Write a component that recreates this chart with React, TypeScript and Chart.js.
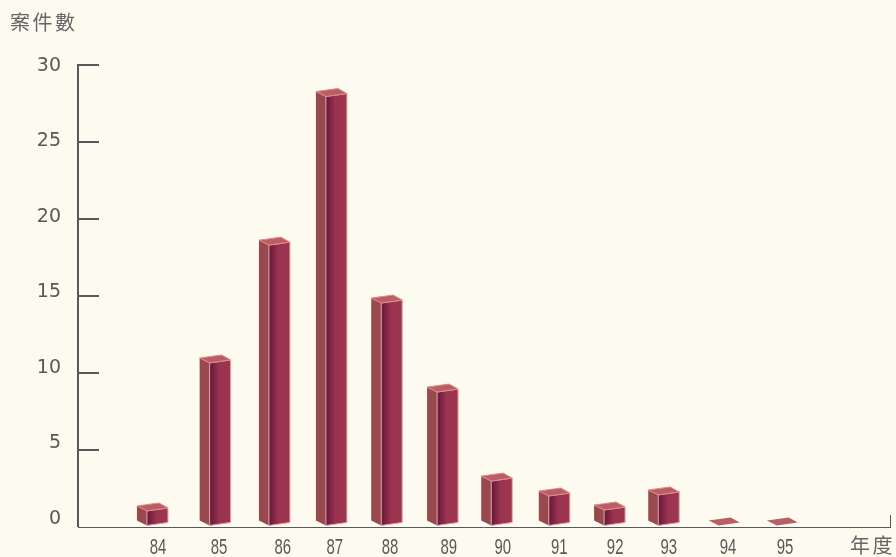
import React, { useEffect, useRef } from "react";
import { Chart, registerables } from "chart.js";

Chart.register(...registerables);

// Fiscal years along the horizontal axis
const yearLabels = ["84", "85", "86", "87", "88", "89", "90", "91", "92", "93", "94", "95"];
// Where each column sits on the axis; the published chart spaces them slightly unevenly
const yearSlots = [83.99, 85.09, 86.13, 87.13, 88.1, 89.08, 90.03, 91.04, 92.01, 92.96, 94.02, 95.04];
// Where each year label sits on the same axis
const labelSlots = [84, 85.07, 86.19, 87.1, 88.07, 89.1, 90.05, 91.04, 92.02, 92.96, 94, 95];
// Number of cases per year
const caseCounts = [1.14, 10.75, 18.4, 28.05, 14.64, 8.86, 3.08, 2.11, 1.2, 2.18, 0, 0];
const valueTicks = [0, 5, 10, 15, 20, 25, 30];

const AXIS = "#58585a";
const TEXT = "#585858";

const poly = (ctx: CanvasRenderingContext2D, pts: number[][], fill: any, stroke?: string) => {
  ctx.beginPath();
  pts.forEach(([x, y], i) => (i ? ctx.lineTo(x, y) : ctx.moveTo(x, y)));
  ctx.closePath();
  ctx.fillStyle = fill;
  ctx.fill();
  if (stroke) {
    ctx.strokeStyle = stroke;
    ctx.lineWidth = 1;
    ctx.stroke();
  }
};

// Paints each bar element as a small 3D column: side, front and top faces
const columns3d = {
  id: "columns3d",
  afterDatasetsDraw(chart: any) {
    const { ctx } = chart;
    const meta = chart.getDatasetMeta(0);
    ctx.save();
    meta.data.forEach((el: any) => {
      const halfW = 10.5;
      const skew = 1.5;
      const top = Math.min(el.y, el.base);
      const bottom = el.base;
      const l = el.x - halfW;
      const r = el.x + halfW;
      const hasBody = bottom - top > 0.5;
      if (hasBody) {
        poly(ctx, [[l - 10, top + skew - 5], [l, top + skew], [l, bottom + skew], [l - 10, bottom + skew - 5]], "#97494d");
        const g = ctx.createLinearGradient(l, 0, r, 0);
        g.addColorStop(0, "#62183a");
        g.addColorStop(0.45, "#9a3350");
        g.addColorStop(1, "#9c3650");
        poly(ctx, [[l, top + skew], [r, top - skew], [r, bottom - skew], [l, bottom + skew]], g, "#ec9fa4");
      }
      poly(ctx, [[l, top + skew], [r, top - skew], [r - 9, top - skew - 5], [l - 10, top + skew - 5]], "#b95f64", hasBody ? "#e2898f" : undefined);
    });
    ctx.restore();
  },
};

// Axis captions, condensed year labels and the closing mark on the horizontal axis
const axisDecor = {
  id: "axisDecor",
  afterDraw(chart: any) {
    const { ctx, chartArea, scales } = chart;
    ctx.save();
    ctx.strokeStyle = AXIS;
    ctx.lineWidth = 1;
    ctx.beginPath();
    ctx.moveTo(chartArea.right + 0.5, chartArea.bottom);
    ctx.lineTo(chartArea.right + 0.5, chartArea.bottom - 12);
    ctx.stroke();

    ctx.fillStyle = TEXT;
    ctx.font = "22px 'Liberation Sans'";
    ctx.textAlign = "center";
    ctx.textBaseline = "middle";
    const squeeze = 0.68;
    scales.x.ticks.forEach((t: any) => {
      ctx.save();
      ctx.translate(scales.x.getPixelForValue(t.value), 548);
      ctx.scale(squeeze, 1);
      ctx.fillText(t.label, 0, 0);
      ctx.restore();
    });

    ctx.fillStyle = "#666666";
    ctx.font = "20px 'Noto Sans CJK TC'";
    ctx.letterSpacing = "2.5px";
    ctx.textAlign = "left";
    ctx.fillText("案件數", 10, 22);
    ctx.fillText("年度", 850, 545);
    ctx.restore();
  },
};

export default function App() {
  const ref = useRef<HTMLCanvasElement>(null);

  useEffect(() => {
    document.body.style.margin = "0";
    document.body.style.background = "#fdfbef";
    const chart = new Chart(ref.current!, {
      type: "bar",
      data: {
        labels: yearLabels,
        datasets: [
          {
            label: "案件數",
            data: caseCounts.map((y, i) => ({ x: yearSlots[i], y })),
            base: 0.195,
            barThickness: 21,
            backgroundColor: "transparent",
            borderWidth: 0,
          } as any,
        ],
      },
      plugins: [columns3d, axisDecor],
      options: {
        responsive: false,
        animation: false,
        layout: { padding: { top: 65, right: 6, left: 0, bottom: 0 } },
        plugins: { legend: { display: false }, tooltip: { enabled: false } },
        scales: {
          x: {
            type: "linear",
            offset: false,
            min: 82.596,
            max: 96.842,
            afterBuildTicks: (s: any) => {
              s.ticks = labelSlots.map((value) => ({ value }));
            },
            afterFit: (s: any) => {
              s.height = 30;
            },
            grid: { display: false },
            border: { display: true, color: AXIS, width: 1 },
            ticks: {
              autoSkip: false,
              maxRotation: 0,
              color: "rgba(0,0,0,0)",
              font: { family: "'Liberation Sans'", size: 1 },
              callback: (_v: any, i: number) => yearLabels[i],
            },
          },
          y: {
            min: 0,
            max: 30,
            afterBuildTicks: (s: any) => {
              s.ticks = valueTicks.map((value) => ({ value }));
            },
            afterFit: (s: any) => {
              s.width = 0;
            },
            border: { display: true, color: AXIS, width: 2 },
            grid: { drawOnChartArea: false, drawTicks: true, tickLength: -21, color: AXIS, lineWidth: (c: any) => (c.tick && c.tick.value === 0 ? 0 : 2) },
            ticks: { display: false },
          },
          // Carries the value labels, which step a little tighter than the tick marks
          yLabels: {
            position: "left",
            min: -0.6,
            max: 30,
            afterBuildTicks: (s: any) => {
              s.ticks = valueTicks.map((value) => ({ value }));
            },
            afterFit: (s: any) => {
              s.width = 78;
            },
            border: { display: false },
            grid: { display: false },
            ticks: {
              padding: 9,
              labelOffset: 1,
              color: TEXT,
              font: { family: "'DejaVu Sans'", size: 19 },
            },
          },
        },
      } as any,
    });
    return () => chart.destroy();
  }, []);

  return <canvas ref={ref} width={896} height={557} style={{ display: "block", width: 896, height: 557 }} />;
}
